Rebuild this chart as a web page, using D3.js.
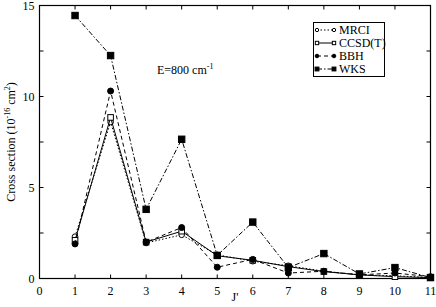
<!DOCTYPE html>
<html>
<head>
<meta charset="utf-8">
<script src="https://cdn.jsdelivr.net/npm/d3@7"></script>
<style>
  body { margin: 0; background: #fff; }
  text { font-family: "Liberation Serif", "DejaVu Serif", serif; }
</style>
</head>
<body>
<svg id="chart" width="436" height="307"></svg>
<script>
// J' values
const jValues = [1, 2, 3, 4, 5, 6, 7, 8, 9, 10, 11]
const mrci = [2.3, 8.6, 1.95, 2.4, 1.3, 0.95, 0.7, 0.4, 0.2, 0.15, 0.05]
const ccsdt = [2.1, 8.85, 2.0, 2.6, 1.25, 1.0, 0.65, 0.38, 0.2, 0.1, 0.05]
const bbh = [1.9, 10.3, 2.0, 2.8, 0.62, 1.05, 0.3, 0.4, 0.2, 0.3, 0.1]
const wks = [14.45, 12.25, 3.8, 7.65, 1.27, 3.1, 0.6, 1.37, 0.25, 0.6, 0.05]
const xTicks = [0, 1, 2, 3, 4, 5, 6, 7, 8, 9, 10, 11]
const yTicks = [0, 5, 10, 15]

const series = [
  {name: "MRCI", values: mrci, dash: "1.5,2", marker: "circle", fill: "white"},
  {name: "CCSD(T)", values: ccsdt, dash: null, marker: "square", fill: "white"},
  {name: "BBH", values: bbh, dash: "4,3", marker: "circle", fill: "black"},
  {name: "WKS", values: wks, dash: "5,2,1.5,2", marker: "square", fill: "black"}
]

const svg = d3.select("#chart")
const mLeft = 39.5, mRight = 430.5, mTop = 5.5, mBottom = 278.5

const x = d3.scaleLinear().domain([0, 11]).range([mLeft, mRight])
const y = d3.scaleLinear().domain([0, 15]).range([mBottom, mTop])

// ticks
const minorY = d3.range(0, 15.01, 2.5)
let g = svg.append("g").attr("stroke", "#000").attr("stroke-width", 1)
minorY.forEach(v => {
  let len = 4
  g.append("line").attr("x1", mLeft).attr("x2", mLeft + len).attr("y1", y(v)).attr("y2", y(v))
  g.append("line").attr("x1", mRight).attr("x2", mRight - len).attr("y1", y(v)).attr("y2", y(v))
})
xTicks.forEach(v => {
  g.append("line").attr("x1", x(v)).attr("x2", x(v)).attr("y1", mBottom).attr("y2", mBottom - 4)
  g.append("line").attr("x1", x(v)).attr("x2", x(v)).attr("y1", mTop).attr("y2", mTop + 4)
})

// frame
svg.append("rect").attr("x", mLeft).attr("y", mTop).attr("width", mRight - mLeft).attr("height", mBottom - mTop)
  .attr("fill", "none").attr("stroke", "#000").attr("stroke-width", 1.2)

// tick labels
svg.selectAll(".xl").data(xTicks).enter().append("text")
  .attr("x", d => x(d)).attr("y", mBottom + 16).attr("text-anchor", "middle")
  .attr("font-size", 12).text(d => d)
svg.selectAll(".yl").data(yTicks).enter().append("text")
  .attr("x", mLeft - 5).attr("y", d => y(d) + 4).attr("text-anchor", "end")
  .attr("font-size", 12).text(d => d)

// axis titles
svg.append("text").attr("x", (mLeft + mRight) / 2).attr("y", 301).attr("text-anchor", "middle")
  .attr("font-size", 12).text("J'")
let yt = svg.append("text").attr("transform", "translate(15," + ((mTop + mBottom) / 2) + ") rotate(-90)")
  .attr("text-anchor", "middle").attr("font-size", 12)
yt.append("tspan").text("Cross section (10")
yt.append("tspan").attr("dy", -5).attr("font-size", 8).text("-16")
yt.append("tspan").attr("dy", 5).text(" cm")
yt.append("tspan").attr("dy", -5).attr("font-size", 8).text("2")
yt.append("tspan").attr("dy", 5).text(")")

// energy note
let et = svg.append("text").attr("x", 157).attr("y", 74).attr("font-size", 12)
et.append("tspan").text("E=800 cm")
et.append("tspan").attr("dy", -5).attr("font-size", 8).text("-1")

function drawMarker(sel, s, cx, cy, k) {
  if (s.marker === "circle") {
    sel.append("circle").attr("cx", cx).attr("cy", cy).attr("r", (s.fill === "white" ? 2.8 : 3) * k)
      .attr("fill", s.fill).attr("stroke", "#000").attr("stroke-width", 1)
  } else {
    let h = (s.fill === "white" ? 2.8 : 3.2) * k
    sel.append("rect").attr("x", cx - h).attr("y", cy - h).attr("width", 2 * h).attr("height", 2 * h)
      .attr("fill", s.fill).attr("stroke", "#000").attr("stroke-width", 1)
  }
}

const line = d3.line().x((d, i) => x(jValues[i])).y(d => y(d))

series.forEach(s => {
  svg.append("path").attr("d", line(s.values)).attr("fill", "none")
    .attr("stroke", "#000").attr("stroke-width", 1)
    .attr("stroke-dasharray", s.dash)
  let mg = svg.append("g")
  s.values.forEach((v, i) => drawMarker(mg, s, x(jValues[i]), y(v), 1))
})

// legend
const lg = svg.append("g")
lg.append("rect").attr("x", 313.5).attr("y", 22.5).attr("width", 71).attr("height", 54)
  .attr("fill", "white").attr("stroke", "#000").attr("stroke-width", 1)
series.forEach((s, i) => {
  let ly = 30 + i * 13
  lg.append("line").attr("x1", 317).attr("x2", 334).attr("y1", ly).attr("y2", ly)
    .attr("stroke", "#000").attr("stroke-width", 1).attr("stroke-dasharray", s.dash)
  drawMarker(lg, s, 317, ly, 0.6)
  drawMarker(lg, s, 334, ly, 0.6)
  lg.append("text").attr("x", 339).attr("y", ly + 4).attr("font-size", 12).text(s.name)
})
</script>
</body>
</html>
